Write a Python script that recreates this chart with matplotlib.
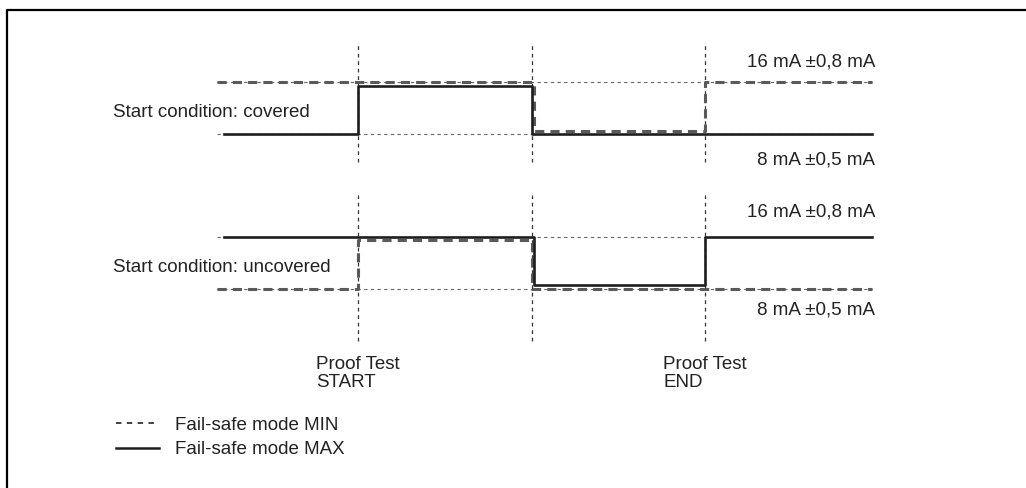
import matplotlib.pyplot as plt
from matplotlib.lines import Line2D

plt.rcParams['font.family'] = ['Liberation Sans', 'DejaVu Sans']

# time axis: 0 = proof test START, 1 = middle, 2 = proof test END
events = [0.0, 1.0, 2.0]
event_labels = ['Proof Test\nSTART', None, 'Proof Test\nEND']
ref_levels = [16.0, 8.0]       # mA
ref_labels = ['16 mA \u00b10,8 mA', '8 mA \u00b10,5 mA']

# step signals (edge times, level per segment in mA)
covered_max_t = [-0.77, 0.0, 1.0, 2.96]
covered_max_y = [8.0, 15.4, 8.0]
covered_min_t = [-0.81, 1.015, 2.0, 2.96]
covered_min_y = [16.0, 8.5, 16.0]

uncovered_max_t = [-0.77, 1.015, 2.0, 2.96]
uncovered_max_y = [16.0, 8.6, 16.0]
uncovered_min_t = [-0.81, 0.0, 1.0, 2.96]
uncovered_min_y = [8.0, 15.5, 8.0]

panels = [
    ('Start condition: covered', covered_max_t, covered_max_y, covered_min_t, covered_min_y),
    ('Start condition: uncovered', uncovered_max_t, uncovered_max_y, uncovered_min_t, uncovered_min_y),
]

W, H = 1026, 488
fig = plt.figure(figsize=(W / 100, H / 100), dpi=100)

# axes regions in pixels (top, bottom) and y-limits
regions = [(30, 180, (0.923, 24.0)), (185, 345, (-0.615, 24.0))]
vline_span = [(3.7, 22.15), (0.0, 22.5)]
label_y = [(19.08, 4.0), (19.85, 4.77)]

xlim = (-358 / 173.5, (W - 358) / 173.5)
txt_col = '#222222'
fs = 13.5

for i, (name, mt, my, nt, ny) in enumerate(panels):
    top, bot, ylim = regions[i]
    ax = fig.add_axes([0, 1 - bot / H, 1, (bot - top) / H])
    ax.set_xlim(xlim)
    ax.set_ylim(ylim)
    ax.axis('off')

    # reference levels
    for lv in ref_levels:
        ax.plot([-0.81, 2.96], [lv, lv], color='#666666', lw=0.8, dashes=(3, 3))
    # event markers
    lo, hi = vline_span[i]
    for ev in events:
        ax.plot([ev, ev], [lo, hi], color='#333333', lw=0.9, dashes=(3, 3))

    # fail-safe MIN (dashed) and MAX (solid)
    ax.step(nt, ny + [ny[-1]], where='post', color='#5a5a5a', lw=2.2, dashes=(3, 2))
    ax.step(mt, my + [my[-1]], where='post', color='#1e1e1e', lw=1.9)

    ax.text(-1.412, 11.38, name, fontsize=fs, color=txt_col, va='center', ha='left')
    ax.text(2.98, label_y[i][0], ref_labels[0], fontsize=fs, color=txt_col, va='center', ha='right')
    ax.text(2.98, label_y[i][1], ref_labels[1], fontsize=fs, color=txt_col, va='center', ha='right')

    if i == 1:
        for ev, lab in zip(events, event_labels):
            if lab:
                ax.text(ev, -2.3, lab, fontsize=fs, color=txt_col, ha='center', va='top',
                        multialignment='left', linespacing=1.05)

handles = [Line2D([], [], color='#333333', lw=1.3, dashes=(3, 3)),
           Line2D([], [], color='#1e1e1e', lw=1.8)]
fig.legend(handles, ['Fail-safe mode MIN', 'Fail-safe mode MAX'], loc='upper left',
           bbox_to_anchor=(108 / W, 1 - 409 / H), frameon=False, fontsize=fs,
           handlelength=2.3, handletextpad=0.85, labelspacing=0.4, borderaxespad=0,
           labelcolor=txt_col)

# frame (top and left edges)
fig.add_artist(Line2D([7 / W, 7 / W, 1], [0, 1 - 10 / H, 1 - 10 / H], color='black', lw=1.6))

fig.savefig('out.png', dpi=100)
